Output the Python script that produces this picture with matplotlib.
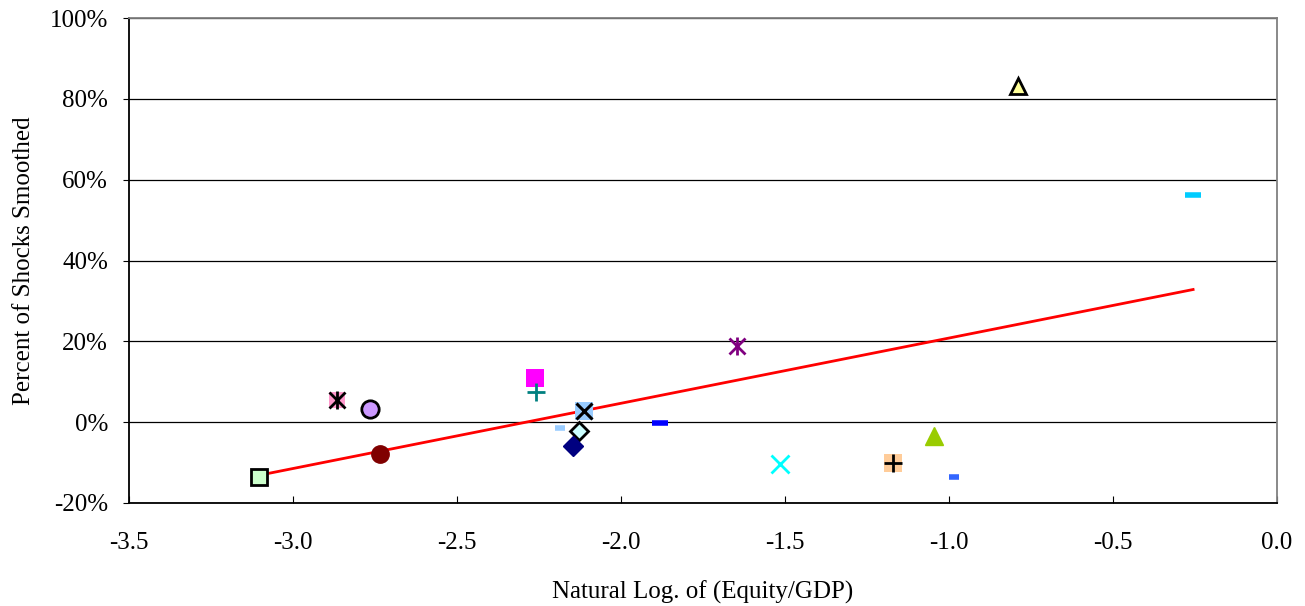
import numpy as np
import matplotlib
matplotlib.use('Agg')
import matplotlib.pyplot as plt

plt.rcParams['font.family'] = ['Liberation Serif', 'DejaVu Serif']

# log(equity/GDP) and percent of shocks smoothed, one point per country
log_equity_gdp = [-3.104, -2.866, -2.765, -2.735, -2.262, -2.259, -2.186, -2.113, -2.128,
                  -2.146, -1.881, -1.646, -1.515, -1.171, -1.046, -0.985, -0.790, -0.256]
pct_smoothed = [-13.6, 5.4, 3.2, -7.9, 10.9, 7.4, -1.5, 2.7, -2.2,
                -5.9, -0.2, 18.8, -10.4, -10.1, -3.5, -13.6, 83.2, 56.2]

x_ticks = [-3.5, -3.0, -2.5, -2.0, -1.5, -1.0, -0.5, 0.0]
y_ticks = [-20, 0, 20, 40, 60, 80, 100]

# marker styles: list of layers (marker, face, edge, size, edge width)
styles = [
    [('s', '#CCFFCC', 'black', 11.5, 2.0)],
    [('s', '#FF99CC', 'none', 11.5, 0), ('x', 'black', 'black', 11, 2.0), ('|', 'black', 'black', 13, 2.0)],
    [('o', '#CC99FF', 'black', 12.5, 2.0)],
    [('o', '#800000', '#800000', 12.5, 1.0)],
    [('s', '#FF00FF', 'none', 12.5, 0)],
    [('+', '#008080', '#008080', 12.5, 2.0)],
    [('_', '#99CCFF', '#99CCFF', 7, 4.0)],
    [('s', '#99CCFF', 'none', 12.5, 0), ('x', 'black', 'black', 11.5, 2.2)],
    [('D', '#CCFFFF', 'black', 9, 2.0)],
    [('D', '#000080', '#000080', 10, 1.0)],
    [('_', '#0000FF', '#0000FF', 11, 4.0)],
    [('x', '#800080', '#800080', 11.5, 2.0), ('|', '#800080', '#800080', 13.5, 2.0)],
    [('x', '#00FFFF', '#00FFFF', 12.5, 2.0)],
    [('s', '#FFCC99', 'none', 12.5, 0), ('+', 'black', 'black', 13.5, 2.0)],
    [('^', '#99CC00', '#99CC00', 12.5, 1.0)],
    [('_', '#3366FF', '#3366FF', 7, 4.0)],
    [('^', '#FFFF99', 'black', 11.5, 2.0)],
    [('_', '#00CCFF', '#00CCFF', 12, 4.0)],
]

fig = plt.figure(figsize=(13.05, 6.06), dpi=100)
ax = fig.add_axes([0.0989, 0.170, 0.8797, 0.800])

for v in y_ticks:
    ax.axhline(v, color='black', lw=0.9, zorder=1)

x = np.array(log_equity_gdp)
y = np.array(pct_smoothed)
slope, icpt = np.polyfit(x, y, 1)
xl = np.array([x.min(), x.max()])
ax.plot(xl, slope * xl + icpt, color='red', lw=2, zorder=2)

for xi, yi, st in zip(log_equity_gdp, pct_smoothed, styles):
    for m, fc, ec, ms, mew in st:
        ax.plot(xi, yi, linestyle='none', marker=m, markersize=ms,
                markerfacecolor=fc, markeredgecolor=ec, markeredgewidth=mew,
                color=ec if ec != 'none' else fc, zorder=3)

ax.set_xlim(-3.5, 0.0)
ax.set_ylim(-20, 100)
ax.set_xticks(x_ticks)
ax.set_xticklabels(['%.1f' % t for t in x_ticks])
ax.set_yticks(y_ticks)
ax.set_yticklabels(['%d%%' % t for t in y_ticks])
ax.tick_params(axis='x', direction='in', length=5, pad=21, labelsize=18)
ax.tick_params(axis='y', direction='out', length=4, pad=11, labelsize=18)

for s in ['left', 'bottom']:
    ax.spines[s].set_color('black')
    ax.spines[s].set_linewidth(1.3)
for s in ['top', 'right']:
    ax.spines[s].set_color('#808080')
    ax.spines[s].set_linewidth(1.3)

ax.set_xlabel('Natural Log. of (Equity/GDP)', fontsize=18, labelpad=19)
ax.set_ylabel('Percent of Shocks Smoothed', fontsize=18, labelpad=11)

plt.savefig('out.png', dpi=100)
